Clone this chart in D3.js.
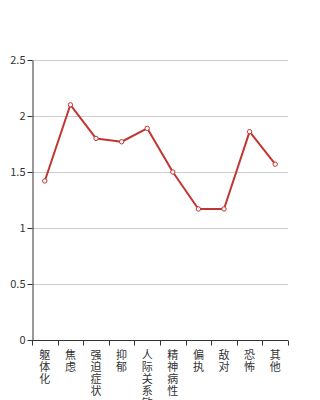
<!DOCTYPE html>
<html>
<head>
<meta charset="utf-8">
<script src="https://cdn.jsdelivr.net/npm/d3@7"></script>
<style>
  body { margin: 0; background: #fff; }
  text { font-family: "Noto Sans CJK SC", "DejaVu Sans", sans-serif; }
</style>
</head>
<body>
<div id="chart"></div>
<script>
// categories and values
const categories = ['躯体化', '焦虑', '强迫症状', '抑郁', '人际关系敏感', '精神病性', '偏执', '敌对', '恐怖', '其他'];
const values = [1.42, 2.10, 1.80, 1.77, 1.89, 1.50, 1.17, 1.17, 1.86, 1.57];
const yTicks = [0, 0.5, 1, 1.5, 2, 2.5];

const width = 320, height = 400;
const margin = { top: 60, right: 32, bottom: 60, left: 32 };

const svg = d3.select('#chart').append('svg')
    .attr('width', width)
    .attr('height', height);

const x = d3.scaleBand()
    .domain(categories)
    .range([margin.left, width - margin.right]);

const y = d3.scaleLinear()
    .domain([0, 2.5])
    .range([height - margin.bottom, margin.top]);

// grid lines
svg.append('g')
    .selectAll('line')
    .data(yTicks.filter(d => d > 0))
    .join('line')
    .attr('x1', margin.left)
    .attr('x2', width - margin.right)
    .attr('y1', d => y(d) + 0.5)
    .attr('y2', d => y(d) + 0.5)
    .attr('stroke', '#ccc')
    .attr('stroke-width', 1);

// y axis
const yAxis = svg.append('g')
    .attr('transform', `translate(${margin.left + 0.5},0)`)
    .call(d3.axisLeft(y).tickValues(yTicks).tickFormat(d3.format('')).tickSize(5).tickSizeOuter(0));
yAxis.select('.domain').attr('stroke', '#333');
yAxis.selectAll('.tick line').attr('stroke', '#333');
yAxis.selectAll('.tick text')
    .attr('fill', '#333')
    .attr('font-size', 11)
    .attr('x', -7);

// x axis with ticks at band boundaries
const xAxisG = svg.append('g')
    .attr('transform', `translate(0,${height - margin.bottom + 0.5})`);
xAxisG.append('line')
    .attr('x1', margin.left)
    .attr('x2', width - margin.right)
    .attr('stroke', '#333');
const bounds = categories.map(c => x(c)).concat([x(categories[categories.length - 1]) + x.bandwidth()]);
xAxisG.selectAll('.xtick')
    .data(bounds)
    .join('line')
    .attr('class', 'xtick')
    .attr('x1', d => Math.round(d) + 0.5)
    .attr('x2', d => Math.round(d) + 0.5)
    .attr('y1', 0)
    .attr('y2', 5)
    .attr('stroke', '#333');

// vertical stacked labels
const lbl = xAxisG.selectAll('.xlabel')
    .data(categories)
    .join('text')
    .attr('class', 'xlabel')
    .attr('text-anchor', 'middle')
    .attr('font-size', 11)
    .attr('fill', '#333');
lbl.selectAll('tspan')
    .data(d => Array.from(d).map(ch => ({ ch, cat: d })))
    .join('tspan')
    .attr('x', d => x(d.cat) + x.bandwidth() / 2)
    .attr('y', (d, i) => 18 + i * 12)
    .text(d => d.ch);

// line
const line = d3.line()
    .x((d, i) => x(categories[i]) + x.bandwidth() / 2)
    .y(d => y(d));

svg.append('path')
    .datum(values)
    .attr('fill', 'none')
    .attr('stroke', '#c23531')
    .attr('stroke-width', 2)
    .attr('stroke-linejoin', 'round')
    .attr('d', line);

svg.append('g')
    .selectAll('circle')
    .data(values)
    .join('circle')
    .attr('cx', (d, i) => x(categories[i]) + x.bandwidth() / 2)
    .attr('cy', d => y(d))
    .attr('r', 2.2)
    .attr('fill', '#fff')
    .attr('stroke', '#c23531')
    .attr('stroke-width', 1);
</script>
</body>
</html>
